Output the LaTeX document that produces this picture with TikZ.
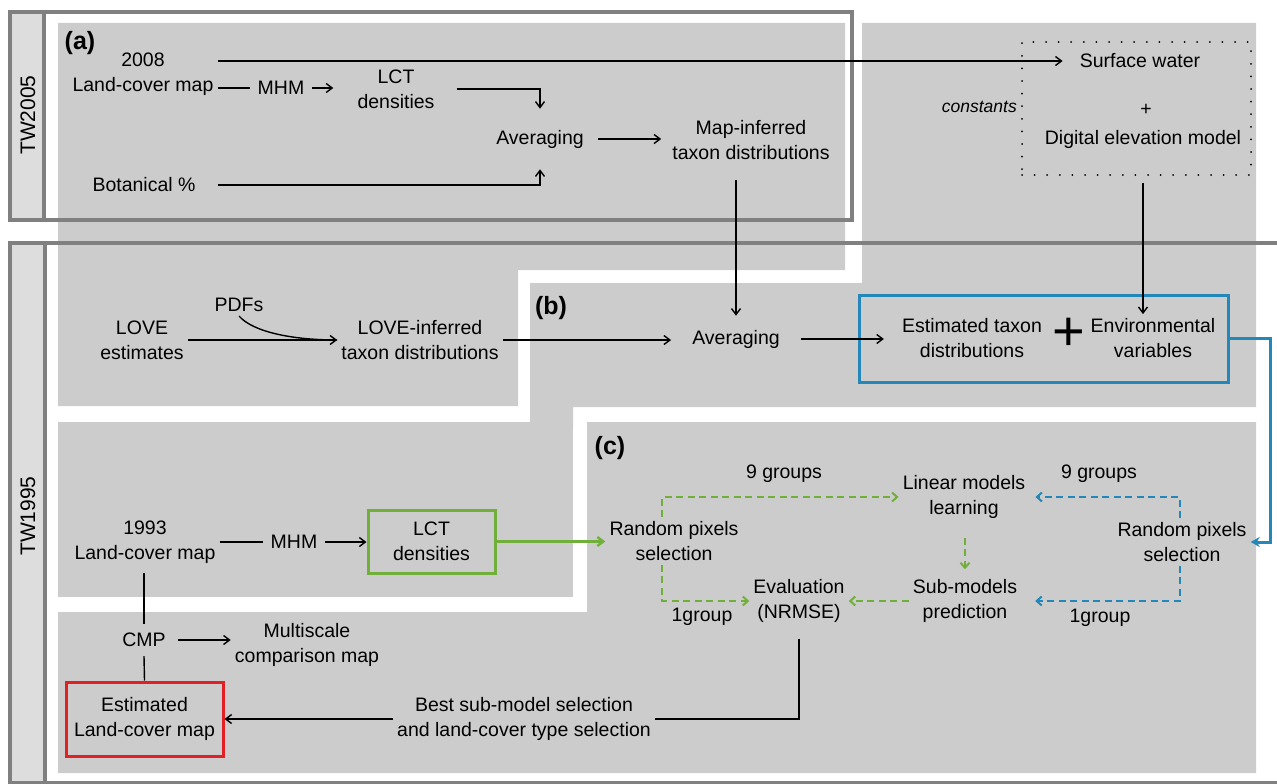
\documentclass[tikz,border=0pt]{standalone}
\usepackage{fontspec}
\setmainfont{Liberation Sans}
\usetikzlibrary{arrows.meta}

\definecolor{panelgray}{RGB}{204,204,204}
\definecolor{framegray}{RGB}{128,128,128}
\definecolor{stripgray}{RGB}{221,221,221}
\definecolor{envblue}{RGB}{35,135,185}
\definecolor{lctgreen}{RGB}{112,176,58}
\definecolor{mapred}{RGB}{226,32,36}

\tikzset{
  txt/.style={font=\fontsize{19.5}{25}\selectfont, align=center, inner sep=4pt},
  tag/.style={font=\fontsize{25}{25}\selectfont\bfseries, inner sep=0pt},
  tw/.style={font=\fontsize{21}{21}\selectfont, rotate=90, inner sep=0pt},
  frame/.style={draw=framegray, line width=3.2pt},
  dotbox/.style={draw, line width=2pt, line cap=round, dash pattern=on 0pt off 12.6pt},
  flow/.style={-{Straight Barb[length=6pt,width=9pt]}, line width=1.4pt},
  link/.style={line width=1.4pt},
  gdash/.style={-{Straight Barb[length=5pt,width=9pt]}, lctgreen, line width=2pt, dash pattern=on 7pt off 4.5pt},
  bdash/.style={gdash, envblue},
}

\begin{document}
\begin{tikzpicture}[x=1pt, y=-1pt]
        \useasboundingbox (0,0) rectangle (1277,784);

        % grey panels
        \fill[panelgray] (58,23) -- (845,23) -- (845,270) -- (518,270) -- (518,406) -- (58,406) -- cycle;
        \fill[panelgray] (862,23) -- (1256,23) -- (1256,407) -- (573,407) -- (573,430) -- (530,430) -- (530,283) -- (862,283) -- cycle;
        \fill[panelgray] (58,422) rectangle (573,597);
        \fill[panelgray] (587,422) -- (1256,422) -- (1256,773) -- (58,773) -- (58,612) -- (587,612) -- cycle;

        % time windows
        \draw[frame, fill=stripgray] (10,12) rectangle (44,220);
        \draw[frame] (10,12) rectangle (852,220);
        \draw[frame, fill=stripgray] (10,243) rectangle (45,783);
        \draw[frame] (1277,243) -- (10,243) -- (10,783) -- (1277,783);
        \node[tw] (twA) at (28,115) {TW2005};
        \node[tw] (twB) at (28,516) {TW1995};

        % (a)
        \node[tag] (tagA) at (80,43) {(a)};
        \node[txt] (lcmA) at (143,74) {2008\\Land-cover map};
        \node[txt, inner xsep=8pt] (mhmA) at (281,88) {MHM};
        \node[txt] (lctA) at (396,89) {LCT\\densities};
        \node[txt, inner xsep=14pt, inner ysep=21pt] (avgA) at (540,139) {Averaging};
        \node[txt] (botA) at (144,185) {Botanical \%};
        \node[txt, inner sep=11pt] (mapinf) at (751,140) {Map-inferred\\taxon distributions};

        \node[dotbox, minimum width=229pt, minimum height=133pt] (envbox) at (1136.5,108.5) {};
        \node[txt] (surf) at (1140,61) {Surface water};
        \node[txt] (plus) at (1146,110) {+};
        \node[txt] (dem) at (1143,139) {Digital elevation model};
        \node[txt, font=\fontsize{17.5}{20}\selectfont\itshape, left, inner sep=2pt] (const) at (1019,107) {constants};

        \draw[flow, shorten >=13pt] (lcmA.east |- surf) -- (surf.west);
        \draw[link] (lcmA.east |- mhmA) -- (mhmA.west);
        \draw[flow, shorten >=20pt] (mhmA.east) -- (mhmA.east -| lctA.west);
        \draw[flow, shorten <=18pt] (lctA.east) -| (avgA.north);
        \draw[flow] (lcmA.east |- botA) -| (avgA.south);
        \draw[flow] (avgA.east) -- (avgA.east -| mapinf.west);

        % (b)
        \node[tag] (tagB) at (551,308) {(b)};
        \node[txt] (loveE) at (142,340) {LOVE\\estimates};
        \node[txt] (pdfs) at (239,305) {PDFs};
        \node[txt] (loveI) at (420,340) {LOVE-inferred\\taxon distributions};
        \node[txt, inner xsep=21pt, inner ysep=14pt] (avgB) at (736,339) {Averaging};
        \node[draw=envblue, line width=3pt, minimum width=369pt, minimum height=87pt] (envsum) at (1043.5,338.5) {};
        \node[txt] (est) at (972,338) {Estimated taxon\\distributions};
        \node[font=\fontsize{56}{56}\selectfont, inner sep=0pt] (plusB) at (1069,334) {+};
        \node[txt] (envvar) at (1153,338) {Environmental\\variables};

        \draw[flow] (loveE) -- (loveI);
        \draw[link] (pdfs.south) .. controls +(14,16) and +(-45,0) .. (loveI.west);
        \draw[flow, shorten <=9pt] (avgB.north |- mapinf.south) -- (avgB.north);
        \draw[flow] (loveI.east) -- (loveI.east -| avgB.west);
        \draw[flow, shorten >=14pt] (avgB.east) -- (avgB.east -| est.west);
        \draw[flow, shorten <=7pt] (dem |- envbox.south) -- (dem |- envvar.north);

        % 1993 map
        \node[txt] (lcmB) at (145,542) {1993\\Land-cover map};
        \node[txt, inner xsep=8pt] (mhmB) at (294,542) {MHM};
        \node[txt, draw=lctgreen, line width=3pt, minimum width=127pt, minimum height=63pt] (lctB) at (431.5,541.5) {LCT\\densities};
        \node[txt, inner ysep=9pt] (cmp) at (144,640) {CMP};
        \node[txt] (multi) at (307,645) {Multiscale\\comparison map};
        \node[txt, draw=mapred, line width=3pt, minimum width=157pt, minimum height=74pt] (estmap) at (144.5,719) {Estimated\\Land-cover map};

        \draw[link] (lcmB.east |- mhmB) -- (mhmB.west);
        \draw[flow] (mhmB.east) -- (mhmB.east -| lctB.west);
        \draw[link, shorten <=5pt] (cmp.north |- lcmB.south) -- (cmp.north);
        \draw[link] (cmp.south) -- (estmap.north);
        \draw[flow, shorten <=8pt] (cmp.east) -- (cmp.east -| multi.west);

        % (c)
        \node[tag] (tagC) at (610,448) {(c)};
        \node[txt] (rpL) at (674,541) {Random pixels\\selection};
        \node[txt] (lin) at (964,497) {Linear models\\learning};
        \node[txt] (sub) at (965,601) {Sub-models\\prediction};
        \node[txt] (evalN) at (799,601) {Evaluation\\(NRMSE)};
        \node[txt] (rpR) at (1182,542) {Random pixels\\selection};
        \node[txt] (grpA) at (784,474) {9 groups};
        \node[txt] (grpB) at (702,617) {1group};
        \node[txt] (grpC) at (1099,474) {9 groups};
        \node[txt] (grpD) at (1100,618) {1group};
        \node[txt] (best) at (524,719) {Best sub-model selection\\and land-cover type selection};

        \draw[flow, lctgreen, line width=2.4pt] (lctB.east) -- (lctB.east -| rpL.west);
        \draw[gdash] ([xshift=-12pt]rpL.north) |- (lin.west);
        \draw[gdash] ([xshift=-12pt]rpL.south) |- (evalN.west);
        \draw[gdash, shorten <=15pt, shorten >=6pt] (sub.north |- lin.south) -- (sub.north);
        \draw[gdash] (sub.west) -- (sub.west -| evalN.east);
        \draw[bdash, shorten >=6pt] ([xshift=-2pt]rpR.north) |- (lin.east);
        \draw[bdash, shorten >=14pt] ([xshift=-2pt]rpR.south) |- (sub.east);
        \draw[line width=3pt, envblue, -{Stealth[length=9pt,width=10pt]}] (envsum.east) -- ++(41,0) |- (rpR.east);
        \draw[link, shorten <=12pt] (evalN.south) |- (best.east);
        \draw[flow] (best.west) -- (best.west -| estmap.east);

    \end{tikzpicture}
\end{document}
